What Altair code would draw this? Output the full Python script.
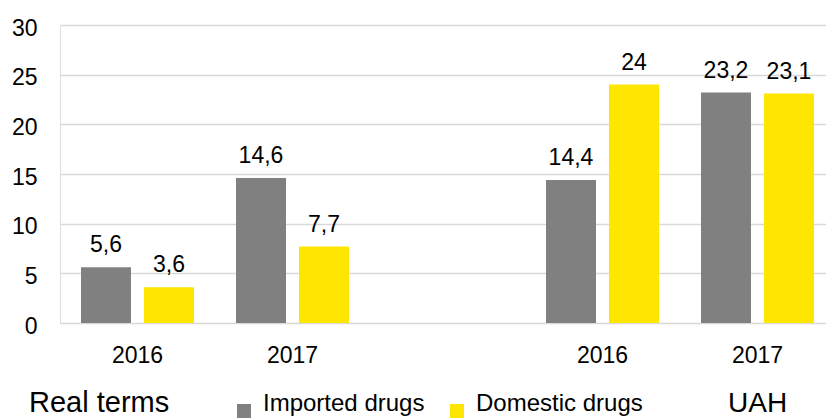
import altair as alt
import pandas as pd

groups = ["Real terms", "Real terms", "UAH", "UAH"]
years = ["2016", "2017", "2016", "2017"]
imported = [5.6, 14.6, 14.4, 23.2]
domestic = [3.6, 7.7, 24.0, 23.1]
series = ["Imported drugs", "Domestic drugs"]
colors = ["#808080", "#FFE600"]
y_ticks = [0, 5, 10, 15, 20, 25, 30]
group_titles = ["Real terms", "UAH"]

FONT = "Liberation Sans"

rows = []
for g, yr, a, b in zip(groups, years, imported, domestic):
    key = f"{g} {yr}"
    rows.append({"slot": key, "series": series[0], "value": a})
    rows.append({"slot": key, "series": series[1], "value": b})
df = pd.DataFrame(rows)
slots = [f"{g} {y}" for g, y in zip(groups, years)]
domain = slots[:2] + ["gap"] + slots[2:]

x_enc = alt.X(
    "slot:N",
    scale=alt.Scale(domain=domain, paddingInner=0.271, paddingOuter=0.1065, align=0.636),
    axis=alt.Axis(
        title=None,
        labelExpr="datum.value == 'gap' ? '' : slice(datum.value, -4)",
        labelAngle=0,
        domain=False,
        ticks=False,
        grid=False,
        labelFontSize=23,
        labelPadding=21,
        labelColor="#000000",
        labelFont=FONT,
    ),
)
xoff_enc = alt.XOffset("series:N", scale=alt.Scale(domain=series, paddingInner=0.206, paddingOuter=0))
y_enc = alt.Y(
    "value:Q",
    scale=alt.Scale(domain=[0, 30], nice=False),
    axis=alt.Axis(
        title=None,
        values=y_ticks,
        grid=True,
        gridColor="#D9D9D9",
        gridWidth=1.6,
        domain=False,
        ticks=False,
        labelFontSize=23,
        labelPadding=23,
        labelOffset=3,
        labelColor="#000000",
        labelFont=FONT,
    ),
)

base = alt.Chart(df)

bars = base.mark_bar().encode(
    x=x_enc,
    xOffset=xoff_enc,
    y=y_enc,
    color=alt.Color(
        "series:N",
        scale=alt.Scale(domain=series, range=colors),
        legend=alt.Legend(
            title=None,
            orient="none",
            legendX=172,
            legendY=374,
            direction="horizontal",
            symbolType="square",
            symbolSize=196,
            symbolStrokeWidth=0,
            symbolOpacity=1,
            labelFontSize=24,
            labelFont=FONT,
            labelColor="#000000",
            labelBaseline="alphabetic",
            labelOffset=7,
            columnPadding=20,
            padding=0,
            labelLimit=400,
        ),
    ),
)

labels = base.transform_calculate(
    label="replace(format(datum.value, '.1~f'), '.', ',')"
).mark_text(
    baseline="alphabetic", align="center", dy=-15, fontSize=23, font=FONT, color="#000000"
).encode(
    x=x_enc,
    xOffset=xoff_enc,
    y=y_enc,
    text="label:N",
)

title_left = alt.Chart(pd.DataFrame({"t": [group_titles[0]]})).mark_text(
    align="left", baseline="alphabetic", fontSize=29, font=FONT, color="#000000"
).encode(text="t:N", x=alt.value(-31), y=alt.value(387))

title_right = alt.Chart(pd.DataFrame({"t": [group_titles[1]]})).mark_text(
    align="left", baseline="alphabetic", fontSize=28, font=FONT, color="#000000"
).encode(text="t:N", x=alt.value(668), y=alt.value(387))

chart = alt.layer(bars, labels, title_left, title_right).properties(
    width=766,
    height=298,
    autosize=alt.AutoSizeParams(type="none"),
    padding={"left": 60, "top": 25, "right": 0, "bottom": 95},
).configure_view(stroke=None).configure(font=FONT)

chart.save("out.html", embed_options={"renderer": "svg", "actions": False})
